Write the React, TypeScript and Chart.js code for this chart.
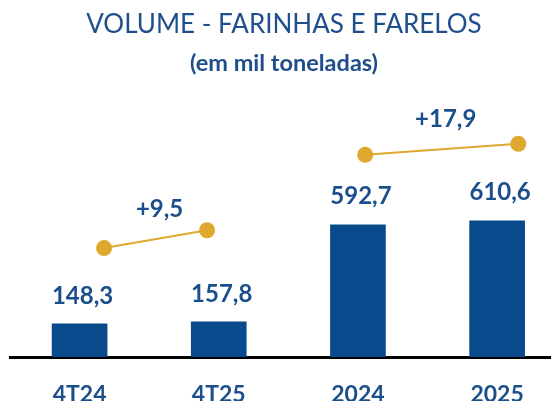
import React, { useEffect, useRef } from "react";
import { Chart, registerables } from "chart.js";

Chart.register(...registerables);

const categories = ["4T24", "4T25", "2024", "2025"];
const volumes = [148.3, 157.8, 592.7, 610.6];
// growth connector segments (x in category units, y in volume units)
const growthLabels = ["+9,5", "+17,9"];
const growthStartX = [0.176, 2.052];
const growthStartY = [488, 906];
const growthEndX = [0.916, 3.152];
const growthEndY = [568, 955];

const BLUE = "#084A8C";
const TEXT_BLUE = "#1B4F8B";
const GOLD = "#E0A82E";
const FONT = "Lato, 'Open Sans', sans-serif";

const fmt = (v: number) => v.toFixed(1).replace(".", ",");

const labelsPlugin = {
  id: "customLabels",
  afterDatasetsDraw(chart: any) {
    const ctx = chart.ctx;
    ctx.save();
    ctx.fillStyle = TEXT_BLUE;
    ctx.textAlign = "center";
    ctx.textBaseline = "middle";
    ctx.font = `bold 24px ${FONT}`;
    const barMeta = chart.getDatasetMeta(0);
    barMeta.data.forEach((bar: any, i: number) => {
      ctx.fillText(fmt(volumes[i]), bar.x + 3, bar.y - 28);
    });
    growthLabels.forEach((lbl, i) => {
      const meta = chart.getDatasetMeta(1 + i);
      const p0 = meta.data[0];
      const p1 = meta.data[1];
      const mx = (p0.x + p1.x) / 2;
      const my = (p0.y + p1.y) / 2;
      ctx.fillText(lbl, mx + 4, my - 30);
    });
    ctx.restore();
  },
};

export default function App() {
  const ref = useRef<HTMLCanvasElement | null>(null);
  useEffect(() => {
    if (!ref.current) return;
    const chart = new Chart(ref.current, {
      type: "bar",
      data: {
        datasets: [
          {
            type: "bar",
            data: volumes.map((v, i) => ({ x: i, y: v })),
            backgroundColor: BLUE,
            barThickness: 55,
            order: 2,
          } as any,
          ...growthLabels.map((_, i) => ({
            type: "line",
            data: [
              { x: growthStartX[i], y: growthStartY[i] },
              { x: growthEndX[i], y: growthEndY[i] },
            ],
            borderColor: GOLD,
            borderWidth: 2,
            pointRadius: 8,
            pointBackgroundColor: GOLD,
            pointBorderWidth: 0,
            order: 1,
          })) as any,
        ],
      },
      options: {
        animation: false,
        responsive: false,
        layout: { padding: { left: 10, right: 0, top: 0, bottom: -31 } },
        plugins: {
          legend: { display: false },
          tooltip: { enabled: false },
          title: {
            display: true,
            text: "VOLUME - FARINHAS E FARELOS",
            color: "#1F4E8C",
            font: { family: FONT, size: 26, weight: "normal", lineHeight: 1.2 },
            padding: { top: 9, bottom: 9 },
          },
          subtitle: {
            display: true,
            text: "(em mil toneladas)",
            color: "#1F4E8C",
            font: { family: FONT, size: 23.5, weight: "bold", lineHeight: 1.2 },
            padding: { top: 0, bottom: 14 },
          },
        },
        scales: {
          x: {
            type: "linear",
            offset: false,
            min: -0.5,
            max: 3.38,
            grid: { display: false, drawTicks: false },
            border: { display: true, color: "#000", width: 3 },
            afterBuildTicks: (scale: any) => {
              scale.ticks = categories.map((_, i) => ({ value: i }));
            },
            ticks: {
              padding: 26,
              color: TEXT_BLUE,
              font: { family: FONT, size: 23, weight: "bold", lineHeight: 1.0 },
              callback: (v: any) => categories[Math.round(Number(v))] ?? "",
              maxRotation: 0,
              autoSkip: false,
            },
          },
          y: {
            display: false,
            min: 0,
            max: 1190,
          },
        },
      },
      plugins: [labelsPlugin],
    } as any);
    return () => chart.destroy();
  }, []);
  return (
    <div style={{ position: "fixed", left: 0, top: 0, width: 558, height: 401, background: "#fff" }}>
      <canvas ref={ref} width={558} height={401} style={{ width: 558, height: 401 }} />
    </div>
  );
}
